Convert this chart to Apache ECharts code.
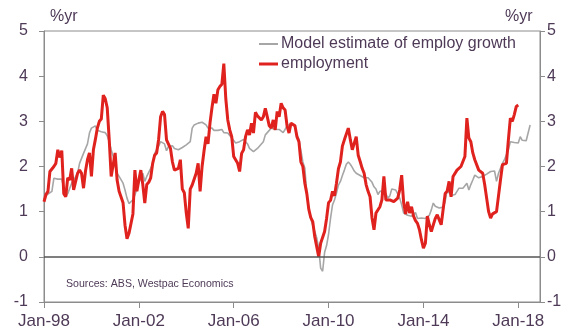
<!DOCTYPE html>
<html>
<head>
<meta charset="utf-8">
<script src="https://cdn.jsdelivr.net/npm/echarts@6/dist/echarts.min.js"></script>
<style>
  html, body { margin: 0; padding: 0; background: #fff; }
  #chart { width: 566px; height: 327px; }
</style>
</head>
<body>
<div id="chart"></div>
<script>
// Monthly categories, Jan-98 through Dec-18
const startYear = 1998, endYear = 2018;
const monthNames = ['Jan','Feb','Mar','Apr','May','Jun','Jul','Aug','Sep','Oct','Nov','Dec'];
const categories = [];
for (let y = startYear; y <= endYear; y++) {
  for (let m = 0; m < 12; m++) {
    categories.push(monthNames[m] + '-' + String(y % 100).padStart(2, '0'));
  }
}

// Employment growth, %yr (Jan-98 .. Jan-18)
const employment = [
  1.22,1.38,1.45,1.89,1.85,2.00,2.07,2.37,2.20,2.35,1.40,1.33,
  1.75,1.70,1.96,1.48,1.50,1.85,1.92,1.85,1.52,1.90,2.15,2.30,
  1.78,2.37,2.60,2.85,3.00,3.05,3.58,3.50,3.30,2.60,1.78,1.80,
  2.30,1.70,1.45,1.42,1.20,0.70,0.40,0.52,0.50,0.95,1.92,1.45,
  1.70,1.92,1.60,1.19,1.60,1.65,1.75,2.07,2.25,2.30,2.60,3.10,
  3.22,3.15,2.59,2.62,2.40,2.10,1.92,1.92,1.96,2.15,1.50,1.42,
  0.97,0.63,1.50,1.59,1.60,1.85,2.07,1.45,2.00,2.35,2.66,2.50,
  2.96,3.30,3.60,3.40,3.70,3.77,3.82,4.28,3.50,3.03,2.81,2.66,
  2.22,2.18,2.07,1.89,2.29,2.37,2.66,2.81,2.70,2.96,2.74,3.20,
  3.12,3.14,3.03,3.10,3.29,3.10,2.90,2.85,3.03,2.81,3.22,3.10,
  3.40,3.30,3.25,2.90,2.74,2.96,2.96,2.90,2.66,2.55,2.10,2.00,
  1.63,1.40,1.05,0.87,0.78,0.45,0.45,0.00,0.30,0.30,0.56,0.85,
  1.20,1.25,1.45,1.35,1.63,1.95,2.10,2.45,2.59,2.63,2.85,2.60,
  2.37,2.40,2.66,2.25,2.11,1.96,1.85,1.60,1.45,1.33,0.86,0.60,
  0.97,0.97,1.11,1.26,1.78,1.26,1.26,1.26,1.26,1.22,1.20,1.30,
  1.48,1.81,1.20,0.95,1.22,0.97,1.11,0.90,0.80,0.74,0.60,0.38,
  0.19,0.30,0.90,0.71,0.56,0.60,0.85,0.93,0.97,0.71,0.72,1.40,
  1.45,1.67,1.33,1.78,1.80,1.92,1.95,2.00,2.04,2.22,3.07,2.63,
  2.55,2.30,2.15,2.15,1.92,1.92,1.85,1.60,1.30,1.00,0.86,0.95,
  0.97,1.00,1.35,1.70,2.04,2.05,2.07,2.59,3.07,3.00,3.15,3.33,
  3.36
];

// Model estimate of employment growth, %yr (Jan-98 .. Jul-18)
const modelEstimate = [
  1.33,1.37,1.39,1.41,1.45,1.74,1.78,1.72,1.74,1.72,1.74,1.33,
  1.40,1.41,1.63,1.70,1.68,1.85,2.07,2.18,2.29,2.30,2.50,2.74,
  2.85,2.87,2.90,2.80,2.80,2.77,2.77,2.75,2.68,2.55,2.37,2.22,
  2.00,1.85,1.78,1.74,1.63,1.48,1.30,1.18,1.15,1.26,1.37,1.50,
  1.65,1.72,1.85,1.67,1.78,1.80,1.96,2.07,2.29,2.30,2.45,2.55,
  2.53,2.50,2.35,2.44,2.46,2.46,2.40,2.40,2.37,2.40,2.42,2.44,
  2.48,2.48,2.55,2.85,2.92,2.92,2.96,2.99,2.98,2.95,2.92,2.85,
  2.83,2.85,2.80,2.78,2.80,2.84,2.82,2.75,2.76,2.74,2.75,2.63,
  2.59,2.52,2.50,2.55,2.55,2.60,2.60,2.50,2.40,2.42,2.33,2.35,
  2.40,2.45,2.48,2.55,2.70,2.75,2.80,2.85,2.85,2.82,2.83,2.82,
  2.80,2.75,2.82,2.90,2.90,2.95,2.96,2.90,2.70,2.60,2.35,2.10,
  1.96,1.40,1.05,0.85,0.70,0.56,0.42,0.20,-0.25,-0.32,0.10,0.25,
  0.50,0.85,1.15,1.26,1.41,1.59,1.67,1.80,1.92,2.05,2.10,2.05,
  1.98,1.90,1.85,1.82,1.80,1.78,1.75,1.78,1.75,1.78,1.65,1.55,
  1.50,1.38,1.45,1.45,1.46,1.40,1.30,1.35,1.50,1.52,1.48,1.50,
  1.30,1.15,0.97,0.97,0.92,0.95,0.90,0.90,0.98,0.85,0.85,0.86,
  0.82,0.85,0.89,0.92,1.04,1.19,1.12,1.14,1.08,1.08,1.10,1.22,
  1.48,1.44,1.36,1.35,1.38,1.45,1.52,1.55,1.52,1.55,1.63,1.48,
  1.60,1.70,1.81,1.78,1.75,1.72,1.78,1.80,1.83,1.85,1.89,1.93,
  1.90,1.67,1.85,1.96,2.07,2.15,2.17,2.37,2.55,2.55,2.53,2.55,
  2.52,2.66,2.58,2.56,2.57,2.60,2.92
];

// Axis settings
const yMin = -1, yMax = 5, yStep = 1;
const tickEveryMonths = 48;

const textColor = '#4e3a57';
const axisColor = '#8c8c8c';
const modelColor = '#a6a6a6';
const employColor = '#e0221e';
const font = 'Liberation Sans, Arial, sans-serif';

const chart = echarts.init(document.getElementById('chart'), null, { renderer: 'canvas' });

const yAxisBase = {
  type: 'value',
  min: yMin, max: yMax, interval: yStep,
  splitLine: { show: false },
  axisLine: { show: true, lineStyle: { color: axisColor, width: 1 } },
  axisTick: { show: true, inside: false, length: 5, lineStyle: { color: axisColor } },
  axisLabel: { color: textColor, fontSize: 16, fontFamily: font }
};

chart.setOption({
  animation: false,
  backgroundColor: '#ffffff',
  grid: {
    left: 44, right: 26, top: 31, bottom: 25,
    outerBoundsMode: 'none',
    containLabel: false,
    show: true, borderColor: axisColor, borderWidth: 1
  },
  legend: {
    orient: 'vertical',
    left: 259, top: 36, padding: 0,
    itemWidth: 19, itemHeight: 16, itemGap: 4,
    textStyle: { color: textColor, fontSize: 16, fontFamily: font, padding: [0, 0, 0, -2] },
    data: [
      { name: 'Model estimate of employ growth', icon: 'path://M0,0H19V2H0Z' },
      { name: 'employment', icon: 'path://M0,0H19V3H0Z' }
    ]
  },
  xAxis: {
    type: 'category',
    data: categories,
    boundaryGap: false,
    axisLine: { show: true, onZero: false, lineStyle: { color: axisColor, width: 1 } },
    axisTick: {
      show: true, inside: false, length: 6,
      interval: (i) => i % tickEveryMonths === 0,
      lineStyle: { color: axisColor }
    },
    axisLabel: {
      show: true, margin: 11,
      interval: (i) => i % tickEveryMonths === 0,
      color: textColor, fontSize: 17, fontFamily: font
    },
    splitLine: { show: false }
  },
  yAxis: [
    Object.assign({}, yAxisBase, { position: 'left', axisLabel: Object.assign({}, yAxisBase.axisLabel, { margin: 16 }) }),
    Object.assign({}, yAxisBase, { position: 'right', axisLabel: Object.assign({}, yAxisBase.axisLabel, { margin: 7 }) })
  ],
  graphic: [
    { type: 'text', left: 50, top: 9, style: { text: '%yr', fill: textColor, font: '16px ' + font } },
    { type: 'text', left: 505, top: 9, style: { text: '%yr', fill: textColor, font: '16px ' + font } },
    { type: 'text', left: 66, top: 279, style: { text: 'Sources: ABS, Westpac Economics', fill: textColor, font: '10.6px ' + font } }
  ],
  series: [
    {
      name: 'Model estimate of employ growth',
      type: 'line',
      data: modelEstimate,
      symbol: 'none',
      lineStyle: { color: modelColor, width: 1.6 },
      itemStyle: { color: modelColor },
      z: 2,
      markLine: {
        silent: true,
        symbol: 'none',
        label: { show: false },
        lineStyle: { color: '#555555', width: 1.5, type: 'solid' },
        data: [{ yAxis: 0 }]
      }
    },
    {
      name: 'employment',
      type: 'line',
      data: employment,
      symbol: 'none',
      lineStyle: { color: employColor, width: 3 },
      itemStyle: { color: employColor },
      z: 3
    }
  ]
});
</script>
</body>
</html>
